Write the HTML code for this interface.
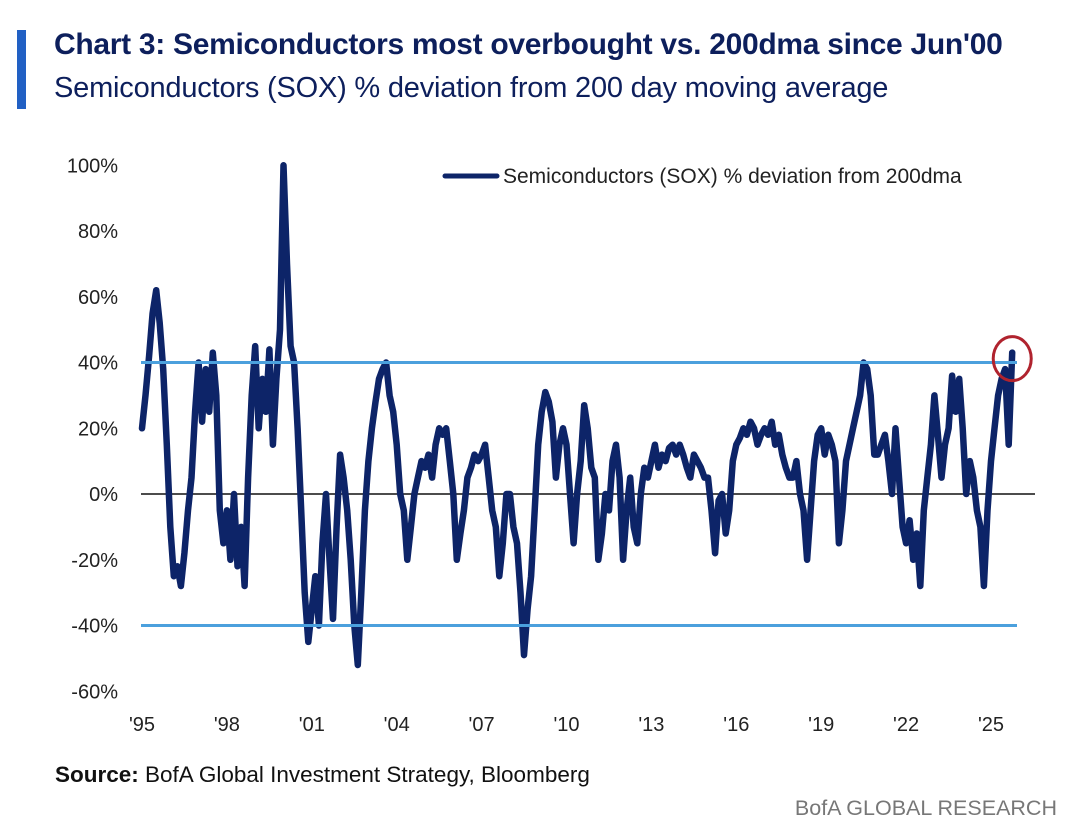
<!DOCTYPE html>
<html><head><meta charset="utf-8"><style>
body{margin:0;background:#fff;width:1080px;height:835px;overflow:hidden;position:relative;font-family:"Liberation Sans",sans-serif;}
.t{position:absolute;white-space:nowrap;}
</style></head><body>
<div style="position:absolute;left:17px;top:30px;width:9px;height:79px;background:#2160c4"></div>
<div class="t" style="left:54px;top:28px;font-size:30px;font-weight:bold;color:#0d1f5c;letter-spacing:-0.3px">Chart 3: Semiconductors most overbought vs. 200dma since Jun'00</div>
<div class="t" style="left:54px;top:72px;font-size:29px;color:#0d1f5c;letter-spacing:-0.2px">Semiconductors (SOX) % deviation from 200 day moving average</div>
<svg id="chart" width="1080" height="835" style="position:absolute;left:0;top:0"></svg>
<div class="t" style="left:55px;top:762px;font-size:22.5px;color:#111"><b>Source:</b> BofA Global Investment Strategy, Bloomberg</div>
<div class="t" style="right:23px;top:796px;font-size:21.5px;color:#777">BofA GLOBAL RESEARCH</div>
<script>
const yTicks=[100,80,60,40,20,0,-20,-40,-60];
const xTickYears=[1995,1998,2001,2004,2007,2010,2013,2016,2019,2022,2025];
const xTickLabels=["'95","'98","'01","'04","'07","'10","'13","'16","'19","'22","'25"];
const startYear=1995, samplesPerYear=8;
const values=[
20,30,42,55,62,52,38,15,
-10,-25,-22,-28,-18,-5,5,25,
40,22,38,25,43,30,-5,-15,
-5,-20,0,-22,-10,-28,5,30,
45,20,35,25,44,15,35,50,
100,70,45,40,20,-5,-30,-45,
-35,-25,-40,-15,0,-20,-38,-10,
12,5,-5,-20,-40,-52,-30,-5,
10,20,28,35,38,40,30,25,
15,0,-5,-20,-10,0,5,10,
8,12,5,15,20,18,20,10,
0,-20,-12,-5,5,8,12,10,
12,15,5,-5,-10,-25,-15,0,
0,-10,-15,-30,-49,-35,-25,-5,
15,25,31,28,22,5,15,20,
15,0,-15,0,10,27,20,8,
5,-20,-12,0,-5,10,15,5,
-20,-5,5,-10,-15,0,8,5,
10,15,8,12,10,14,15,12,
15,12,8,5,12,10,8,5,
5,-5,-18,-2,0,-12,-5,10,
15,17,20,18,22,20,15,18,
20,18,22,15,18,12,8,5,
5,10,0,-5,-20,-5,10,18,
20,12,18,15,10,-15,-5,10,
15,20,25,30,40,38,30,12,
12,15,18,10,0,20,5,-10,
-15,-8,-20,-12,-28,-5,5,15,
30,18,5,15,20,36,25,35,
20,0,10,5,-5,-10,-28,-5,
10,20,30,35,38,15,43];
const refLines=[40,-40];
const NS="http://www.w3.org/2000/svg";
const svg=document.getElementById('chart');
const X=yr=>142+(yr-1995)*28.3;
const Y=v=>494-v*3.2875;
function mk(tag,attrs){const e=document.createElementNS(NS,tag);for(const k in attrs)e.setAttribute(k,attrs[k]);svg.appendChild(e);return e;}
yTicks.forEach(v=>{const t=mk('text',{x:118,y:Y(v)+7,'text-anchor':'end','font-size':20,fill:'#222','font-family':'Liberation Sans, sans-serif'});t.textContent=v+'%';

});
xTickYears.forEach((yr,i)=>{const t=mk('text',{x:X(yr),y:731,'text-anchor':'middle','font-size':20,fill:'#222','font-family':'Liberation Sans, sans-serif'});t.textContent=xTickLabels[i];

});
const z=mk('line',{x1:141,x2:1035,y1:Y(0),y2:Y(0),stroke:'#111','stroke-width':1.5});


const endX=X(startYear+(values.length-1)/samplesPerYear);
let d='';values.forEach((v,i)=>{d+=(i?'L':'M')+X(startYear+i/samplesPerYear).toFixed(1)+','+Y(v).toFixed(1);});
const p=mk('path',{d:d,fill:'none',stroke:'#0d2468','stroke-width':6.5,'stroke-linejoin':'round','stroke-linecap':'round'});


refLines.forEach(v=>{const l=mk('line',{x1:141,x2:1017,y1:Y(v),y2:Y(v),stroke:'#4ba0dd','stroke-width':3});

});
const c=mk('ellipse',{cx:endX,cy:Y(values[values.length-1])+6,rx:19,ry:22,fill:'none',stroke:'#b0232e','stroke-width':3});


const ll=mk('line',{x1:445,x2:497,y1:176,y2:176,stroke:'#0d2468','stroke-width':5,'stroke-linecap':'round'});


const lt=mk('text',{x:503,y:183,'font-size':21,fill:'#222','font-family':'Liberation Sans, sans-serif'});lt.textContent='Semiconductors (SOX) % deviation from 200dma';


</script>
</body></html>
